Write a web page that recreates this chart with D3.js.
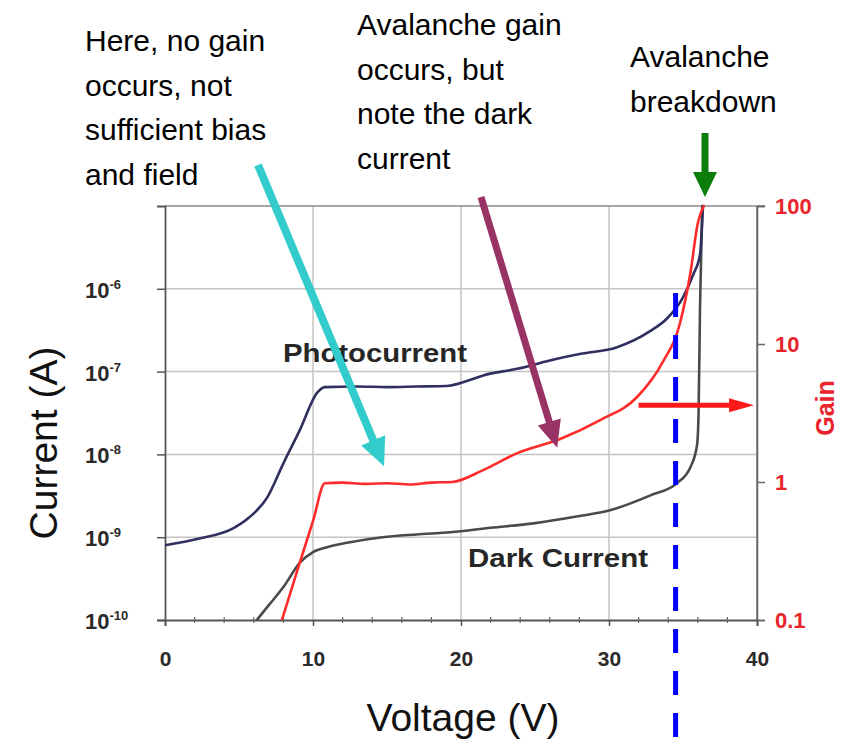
<!DOCTYPE html>
<html>
<head>
<meta charset="utf-8">
<script src="https://cdn.jsdelivr.net/npm/d3@7"></script>
<style>
  body { margin: 0; background: #fff; }
  text { font-family: "Liberation Sans", Arial, sans-serif; }
</style>
</head>
<body>
<div id="chart"></div>
<script>
// Data
const photoV = [0, 2.4, 4.6, 5.7, 6.9, 8, 9.1, 10.3, 10.8, 13, 15, 17, 19, 20.3, 21.5, 23.8, 26, 28.2, 30.5, 32.8, 33.9, 35, 35.7, 36.15, 36.35];
const photoI = [8.0e-10, 9.7e-10, 1.28e-9, 1.74e-9, 3.0e-9, 7.8e-9, 1.95e-8, 5.6e-8, 6.5e-8, 6.6e-8, 6.5e-8, 6.6e-8, 6.7e-8, 7.6e-8, 9.0e-8, 1.08e-7, 1.36e-7, 1.65e-7, 1.96e-7, 3.1e-7, 4.35e-7, 7.9e-7, 1.5e-6, 2.6e-6, 1e-5];

const darkV = [6.2, 7, 8, 9.1, 10, 11, 12.5, 14.7, 17, 19.3, 22, 24.9, 28, 30, 32.8, 34.6, 35.5, 35.95, 36.05, 36.15, 36.3];
const darkI = [1e-10, 1.5e-10, 2.5e-10, 4.9e-10, 6.6e-10, 7.6e-10, 8.7e-10, 1.0e-9, 1.08e-9, 1.15e-9, 1.3e-9, 1.47e-9, 1.8e-9, 2.1e-9, 3.2e-9, 4.5e-9, 7e-9, 1.3e-8, 3e-8, 6e-7, 1e-5];

const gainV = [7.9, 9.0, 10.0, 10.8, 12, 13.5, 15, 16.5, 18, 19.4, 21.5, 23.8, 26.7, 29.4, 31.9, 33.6, 34.8, 35.5, 36, 36.4];
const gainG = [0.1, 0.24, 0.52, 0.98, 0.99, 0.97, 0.98, 0.96, 0.99, 1.0, 1.22, 1.62, 2.05, 2.81, 4.13, 7.3, 14.2, 32.7, 75, 100];

const xTicks = [0, 10, 20, 30, 40];
const currentExps = [-10, -9, -8, -7, -6];
const gainTicks = [0.1, 1, 10, 100];
const gainTickLabels = ["0.1", "1", "10", "100"];
const breakdownV = 34.5;   // blue dashed marker
const gainArrowLevel = 3.6;

const svgWidth = 854;
const svgHeight = 739;
const plot = { left: 165, right: 757, top: 206, bottom: 620 };

const svg = d3.select("#chart").append("svg")
  .attr("width", svgWidth)
  .attr("height", svgHeight)
  .style("display", "block");

svg.append("rect").attr("width", svgWidth).attr("height", svgHeight).attr("fill", "#fff");

// scales
const x = d3.scaleLinear().domain([0, 40]).range([plot.left, plot.right]);
const yI = d3.scaleLog().domain([1e-10, 1e-5]).range([plot.bottom, plot.top]);
const yG = d3.scaleLog().domain([0.1, 100]).range([plot.bottom, plot.top]);

// grid
const grid = svg.append("g").attr("stroke", "#c4c4c4").attr("stroke-width", 1.5);
[10, 20, 30].forEach(v => {
  grid.append("line").attr("x1", x(v)).attr("x2", x(v)).attr("y1", plot.top).attr("y2", plot.bottom);
});
[-9, -8, -7, -6].forEach(e => {
  grid.append("line").attr("x1", plot.left).attr("x2", plot.right)
    .attr("y1", yI(Math.pow(10, e))).attr("y2", yI(Math.pow(10, e)));
});

// frame
svg.append("line").attr("x1", plot.left).attr("x2", plot.right + 8).attr("y1", plot.top).attr("y2", plot.top)
  .attr("stroke", "#8a8a8a").attr("stroke-width", 1.5);
svg.append("line").attr("x1", plot.right).attr("x2", plot.right).attr("y1", plot.top).attr("y2", plot.bottom)
  .attr("stroke", "#777").attr("stroke-width", 1.5);

// bottom axis
const bottomAxis = d3.axisBottom(x).tickValues(xTicks).tickSize(6).tickFormat(d3.format("d"));
const xAxis = svg.append("g").attr("transform", `translate(0,${plot.bottom})`).call(bottomAxis);
xAxis.select(".domain").attr("stroke", "#555").attr("stroke-width", 1.8);
xAxis.selectAll(".tick line").attr("stroke", "#555").attr("stroke-width", 1.5);
xAxis.selectAll(".tick text").attr("dy", 0).attr("y", 46)
  .style("font-size", "21px").style("font-weight", "bold").attr("fill", "#2a2a2a");
// minor ticks every 2 V
svg.append("g").selectAll("line").data(d3.range(2, 40, 2).filter(v => v % 10 !== 0)).join("line")
  .attr("x1", d => x(d)).attr("x2", d => x(d))
  .attr("y1", plot.bottom - 3).attr("y2", plot.bottom + 3)
  .attr("stroke", "#666").attr("stroke-width", 1.2);

// left axis (log current)
const leftAxis = d3.axisLeft(yI).tickValues(currentExps.map(e => Math.pow(10, e))).tickSize(8).tickFormat("");
const yAxisL = svg.append("g").attr("transform", `translate(${plot.left},0)`).call(leftAxis);
yAxisL.select(".domain").attr("stroke", "#555").attr("stroke-width", 1.8);
yAxisL.selectAll(".tick line").attr("stroke", "#555").attr("stroke-width", 1.5);

const lbl = svg.append("g").attr("fill", "#2a2a2a").style("font-weight", "bold");
currentExps.forEach(e => {
  const t = lbl.append("text").attr("x", 85).attr("y", yI(Math.pow(10, e)) + 9).style("font-size", "22px");
  t.append("tspan").text("10");
  t.append("tspan").attr("dy", -9).style("font-size", "13px").text(e);
});

// right axis (gain)
const rightAxis = d3.axisRight(yG).tickValues(gainTicks).tickSize(8).tickFormat("");
const yAxisR = svg.append("g").attr("transform", `translate(${plot.right},0)`).call(rightAxis);
yAxisR.select(".domain").attr("stroke", "#666").attr("stroke-width", 1.5);
yAxisR.selectAll(".tick line").attr("stroke", "#666").attr("stroke-width", 1.5);
svg.append("g").selectAll("text").data(gainTicks).join("text")
  .attr("x", 775).attr("y", d => yG(d) + 8)
  .style("font-size", "22px").style("font-weight", "bold").attr("fill", "#e8242c")
  .text((d, i) => gainTickLabels[i]);

// curves
svg.append("defs").append("clipPath").attr("id", "plotClip").append("rect")
  .attr("x", plot.left).attr("y", plot.top - 2)
  .attr("width", plot.right - plot.left).attr("height", plot.bottom - plot.top + 2);

const curves = svg.append("g").attr("clip-path", "url(#plotClip)").attr("fill", "none")
  .attr("stroke-linejoin", "round").attr("stroke-linecap", "round");

const photoLine = d3.line().x(d => x(d[0])).y(d => yI(d[1])).curve(d3.curveMonotoneX);
const gainLine = d3.line().x(d => x(d[0])).y(d => yG(d[1])).curve(d3.curveMonotoneX);

curves.append("path").datum(darkV.map((v, i) => [v, darkI[i]]))
  .attr("d", photoLine).attr("stroke", "#4a4a4e").attr("stroke-width", 2.6);
curves.append("path").datum(photoV.map((v, i) => [v, photoI[i]]))
  .attr("d", photoLine).attr("stroke", "#2f2f60").attr("stroke-width", 2.6);
curves.append("path").datum(gainV.map((v, i) => [v, gainG[i]]))
  .attr("d", gainLine).attr("stroke", "#ff2a2a").attr("stroke-width", 2.6);

// curve labels
svg.append("text").attr("x", 283).attr("y", 362).attr("textLength", 184).attr("lengthAdjust", "spacingAndGlyphs")
  .style("font-size", "25px").style("font-weight", "bold").attr("fill", "#262626").text("Photocurrent");
svg.append("text").attr("x", 468).attr("y", 567).attr("textLength", 180).attr("lengthAdjust", "spacingAndGlyphs")
  .style("font-size", "25px").style("font-weight", "bold").attr("fill", "#262626").text("Dark Current");

// axis titles
svg.append("text").attr("x", 463).attr("y", 731).attr("text-anchor", "middle")
  .style("font-size", "39px").attr("fill", "#111").text("Voltage (V)");
svg.append("text").attr("transform", "translate(57,443) rotate(-90)").attr("text-anchor", "middle")
  .style("font-size", "39px").attr("fill", "#111").text("Current (A)");
svg.append("text").attr("transform", "translate(834,408) rotate(-90)").attr("text-anchor", "middle")
  .style("font-size", "25px").style("font-weight", "bold").attr("fill", "#e8242c").text("Gain");

// annotation arrows
function arrow(x1, y1, x2, y2, color, w, headLen, headW) {
  const a = Math.atan2(y2 - y1, x2 - x1);
  const bx = x2 - headLen * Math.cos(a), by = y2 - headLen * Math.sin(a);
  const px = -Math.sin(a) * headW / 2, py = Math.cos(a) * headW / 2;
  const g = svg.append("g");
  g.append("line").attr("x1", x1).attr("y1", y1).attr("x2", bx + headLen * 0.2 * Math.cos(a)).attr("y2", by + headLen * 0.2 * Math.sin(a))
    .attr("stroke", color).attr("stroke-width", w);
  g.append("path").attr("d", `M${x2},${y2}L${bx + px},${by + py}L${bx - px},${by - py}Z`).attr("fill", color);
}

// blue dashed breakdown marker
svg.append("line").attr("x1", x(breakdownV)).attr("x2", x(breakdownV)).attr("y1", 293).attr("y2", svgHeight)
  .attr("stroke", "#0000ff").attr("stroke-width", 5).attr("stroke-dasharray", "24,18");

arrow(258, 165, x(14.8), yI(7.2e-9), "#33cccc", 8, 28, 26);
arrow(481, 197, x(26.5), yI(1.2e-8), "#993366", 7, 27, 24);
arrow(705, 133, 705, 197, "#0a7d0a", 7, 25, 24);
arrow(x(32), yG(gainArrowLevel), x(39.8), yG(gainArrowLevel), "#ff1a1a", 5, 25, 14);

// annotation text
const notes = [
  { x: 85, y: 51, lines: ["Here, no gain", "occurs, not", "sufficient bias", "and field"] },
  { x: 357, y: 35, lines: ["Avalanche gain", "occurs, but", "note the dark", "current"] },
  { x: 630, y: 67, lines: ["Avalanche", "breakdown"] }
];
notes.forEach(n => {
  const t = svg.append("text").attr("x", n.x).attr("y", n.y).style("font-size", "30px").attr("fill", "#000");
  n.lines.forEach((s, i) => t.append("tspan").attr("x", n.x).attr("dy", i === 0 ? 0 : 44.5).text(s));
});
</script>
</body>
</html>
